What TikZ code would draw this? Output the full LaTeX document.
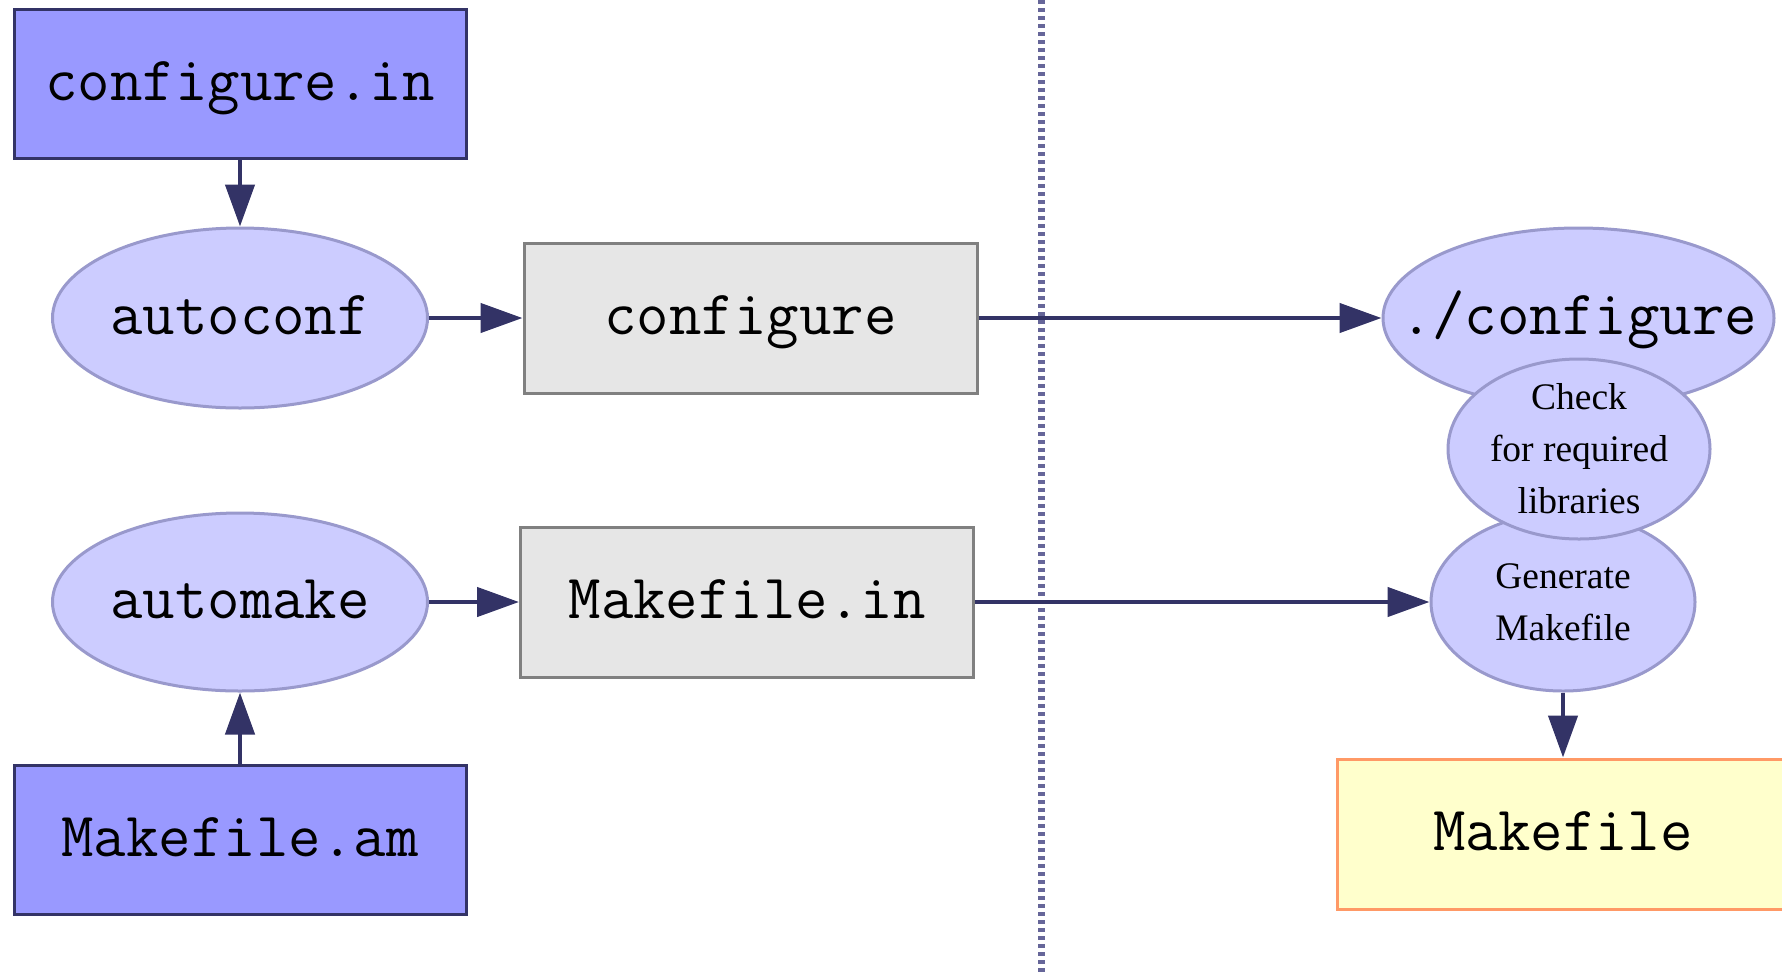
\documentclass[tikz,border=0pt]{standalone}
\usepackage{fontspec}
\setmainfont{Liberation Serif}
\usetikzlibrary{arrows.meta,shapes.geometric}
\definecolor{navy}{HTML}{333366}
\definecolor{boxblue}{HTML}{9999FF}
\definecolor{ellfill}{HTML}{CCCCFF}
\definecolor{ellline}{HTML}{9999CC}
\definecolor{grayfill}{HTML}{E6E6E6}
\definecolor{grayline}{HTML}{808080}
\definecolor{yelfill}{HTML}{FFFFCC}
\definecolor{orline}{HTML}{FF9966}
\definecolor{divider}{HTML}{666699}
\tikzset{
  monotext/.style={font=\ttfamily\fontsize{63}{68}\selectfont, text height=33pt, text depth=0pt},
  filebox/.style={rectangle, draw=navy, fill=boxblue, line width=3pt, minimum width=452pt, minimum height=149pt, inner sep=0pt, monotext},
  genbox/.style={rectangle, draw=grayline, fill=grayfill, line width=3pt, minimum width=453pt, minimum height=150pt, inner sep=0pt, monotext},
  outbox/.style={rectangle, draw=orline, fill=yelfill, line width=3pt, minimum width=452pt, minimum height=150pt, inner sep=0pt, monotext},
  ell/.style={ellipse, draw=ellline, fill=ellfill, line width=3pt, inner sep=0pt},
  lbl/.style={inner sep=0pt},
  sertext/.style={font=\fontsize{37.5}{52}\selectfont, align=center, inner sep=0pt},
  arr/.style={draw=navy, line width=4.5pt, -{Triangle[length=42pt,width=29pt]}},
  divline/.style={draw=divider, line width=7pt, dash pattern=on 4pt off 4pt}
}
\begin{document}
\begin{tikzpicture}[x=1pt,y=-1pt]
\useasboundingbox (0,0) rectangle (1782,975);
\coordinate (dtop) at (1041,0);
\coordinate (dbot) at (1041,975);
\draw[divline] (dtop) -- (dbot);

% left column
\node[filebox] (cin) at (240,83.5) {configure.in};
\node[ell, minimum width=375pt, minimum height=180pt] (ac) at (240,318) {};
\node[lbl, monotext] (acT) at (ac) {autoconf};
\node[ell, minimum width=375pt, minimum height=178pt] (am) at (240,602) {};
\node[lbl, monotext] (amT) at (am) {automake};
\node[filebox] (mam) at (240,839.5) {Makefile.am};

% middle column
\node[genbox] (cfg) at (750.5,318) {configure};
\node[genbox] (min) at (747,602) {Makefile.in};

% right column
\node[ell, minimum width=391pt, minimum height=180pt] (rcfg) at (1578.5,318) {};
\node[lbl, monotext] (rcfgT) at (rcfg) {./configure};
\node[ell, minimum width=264pt, minimum height=178pt] (gen) at (1563,602) {};
\node[lbl, sertext] (genT) at (gen) {Generate\\Makefile};
\node[ell, minimum width=262pt, minimum height=180pt] (chk) at (1579,449) {};
\node[lbl, sertext] (chkT) at (chk) {Check\\for required\\libraries};
\node[outbox] (mf) at (1563,834) {Makefile};

% connectors
\draw[arr] (cin.south) -- (ac.north);
\draw[arr] (ac.east) -- (cfg.west);
\draw[arr] (cfg.east) -- (rcfg.west);
\draw[arr] (mam.north) -- (am.south);
\draw[arr] (am.east) -- (min.west);
\draw[arr] (min.east) -- (gen.west);
\draw[arr] (gen.south) -- (mf.north);
\end{tikzpicture}
\end{document}
